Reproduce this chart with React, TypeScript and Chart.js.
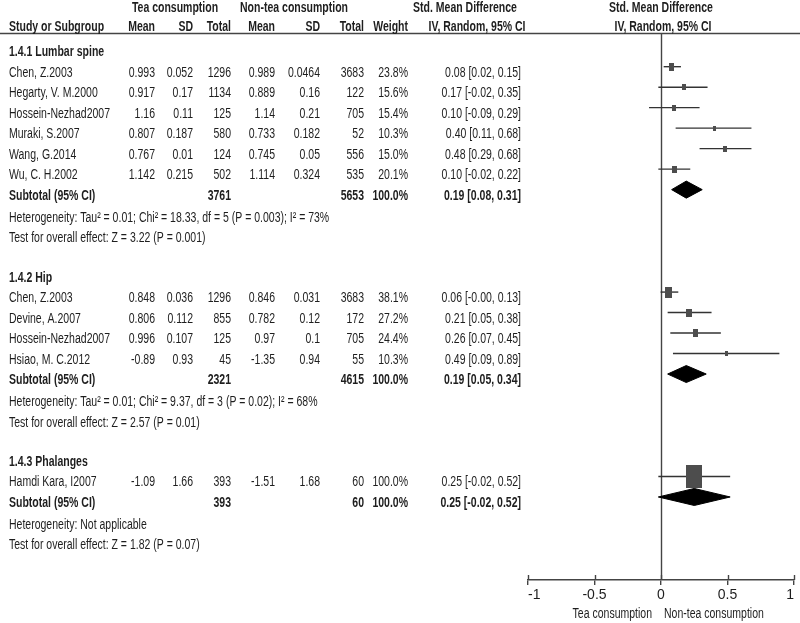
import React, { useEffect, useRef } from 'react';
import { Chart, registerables } from 'chart.js';

Chart.register(...registerables);

// ---------------- data ----------------
const groupNames = ['1.4.1 Lumbar spine', '1.4.2 Hip', '1.4.3 Phalanges'];
const studyNames = [
  'Chen, Z.2003', 'Hegarty, V. M.2000', 'Hossein-Nezhad2007', 'Muraki, S.2007', 'Wang, G.2014', 'Wu, C. H.2002',
  'Chen, Z.2003', 'Devine, A.2007', 'Hossein-Nezhad2007', 'Hsiao, M. C.2012',
  'Hamdi Kara, I2007',
];
const studyGroup = [0, 0, 0, 0, 0, 0, 1, 1, 1, 1, 2];
const teaMean = [0.993, 0.917, 1.16, 0.807, 0.767, 1.142, 0.848, 0.806, 0.996, -0.89, -1.09];
const teaSD = [0.052, 0.17, 0.11, 0.187, 0.01, 0.215, 0.036, 0.112, 0.107, 0.93, 1.66];
const teaTotal = [1296, 1134, 125, 580, 124, 502, 1296, 855, 125, 45, 393];
const nonMean = [0.989, 0.889, 1.14, 0.733, 0.745, 1.114, 0.846, 0.782, 0.97, -1.35, -1.51];
const nonSD = [0.0464, 0.16, 0.21, 0.182, 0.05, 0.324, 0.031, 0.12, 0.1, 0.94, 1.68];
const nonTotal = [3683, 122, 705, 52, 556, 535, 3683, 172, 705, 55, 60];
const weightPct = [23.8, 15.6, 15.4, 10.3, 15.0, 20.1, 38.1, 27.2, 24.4, 10.3, 100.0];
const smd = [0.08, 0.17, 0.10, 0.40, 0.48, 0.10, 0.06, 0.21, 0.26, 0.49, 0.25];
const ciLow = [0.02, -0.02, -0.09, 0.11, 0.29, -0.02, -0.003, 0.05, 0.07, 0.09, -0.02];
const ciHigh = [0.15, 0.35, 0.29, 0.68, 0.68, 0.22, 0.13, 0.38, 0.45, 0.89, 0.52];

const subTeaTotal = [3761, 2321, 393];
const subNonTotal = [5653, 4615, 60];
const subWeight = [100.0, 100.0, 100.0];
const subSmd = [0.19, 0.19, 0.25];
const subLow = [0.08, 0.05, -0.02];
const subHigh = [0.31, 0.34, 0.52];
const heterogeneity = [
  'Heterogeneity: Tau² = 0.01; Chi² = 18.33, df = 5 (P = 0.003); I² = 73%',
  'Heterogeneity: Tau² = 0.01; Chi² = 9.37, df = 3 (P = 0.02); I² = 68%',
  'Heterogeneity: Not applicable',
];
const overallTest = [
  'Test for overall effect: Z = 3.22 (P = 0.001)',
  'Test for overall effect: Z = 2.57 (P = 0.01)',
  'Test for overall effect: Z = 1.82 (P = 0.07)',
];
const xTickValues = [-1, -0.5, 0, 0.5, 1];
const xTickLabels = ['-1', '-0.5', '0', '0.5', '1'];
const favoursLeft = 'Tea consumption';
const favoursRight = 'Non-tea consumption';
const headerGroups = ['Tea consumption', 'Non-tea consumption', 'Std. Mean Difference', 'Std. Mean Difference'];
const headerCols = ['Study or Subgroup', 'Mean', 'SD', 'Total', 'Mean', 'SD', 'Total', 'Weight', 'IV, Random, 95% CI', 'IV, Random, 95% CI'];

// ---------------- layout helpers ----------------
type Row = { kind: 'group' | 'study' | 'subtotal' | 'het' | 'test'; idx: number; row: number };
function buildRows(): Row[] {
  const rows: Row[] = [];
  let r = 0;
  groupNames.forEach((_, gi) => {
    rows.push({ kind: 'group', idx: gi, row: r++ });
    studyGroup.forEach((sg, si) => {
      if (sg === gi) rows.push({ kind: 'study', idx: si, row: r++ });
    });
    rows.push({ kind: 'subtotal', idx: gi, row: r++ });
    rows.push({ kind: 'het', idx: gi, row: r++ });
    rows.push({ kind: 'test', idx: gi, row: r++ });
    r++;
  });
  return rows;
}

const FONT_PX = 14;
function pickFont(): { family: string; sx: number } {
  const c = document.createElement('canvas').getContext('2d')!;
  const s = 'Hossein-Nezhad2007 abcdefg';
  c.font = `${FONT_PX}px monospace`;
  const a = c.measureText(s).width;
  c.font = `${FONT_PX}px "Liberation Sans Narrow", monospace`;
  const b = c.measureText(s).width;
  const family = Math.abs(a - b) > 0.5
    ? '"Liberation Sans Narrow", "Arial Narrow", sans-serif'
    : '"Liberation Sans", Arial, sans-serif';
  c.font = `${FONT_PX}px ${family}`;
  const w = c.measureText('Hossein-Nezhad2007').width;
  return { family, sx: 101 / w };
}

const rectCache: Record<string, HTMLCanvasElement> = {};
function rectStyle(w: number, h: number, color: string) {
  const key = `${w}_${h}_${color}`;
  if (rectCache[key]) return rectCache[key];
  const c = document.createElement('canvas');
  c.width = Math.max(1, Math.round(w));
  c.height = Math.max(1, Math.round(h));
  const g = c.getContext('2d')!;
  g.fillStyle = color;
  g.fillRect(0, 0, c.width, c.height);
  rectCache[key] = c;
  return c;
}

export default function App() {
  const ref = useRef<HTMLCanvasElement | null>(null);

  useEffect(() => {
    const canvas = ref.current;
    if (!canvas) return;
    const font = pickFont();
    const rows = buildRows();
    const rowOfStudy: number[] = [];
    const rowOfSub: number[] = [];
    rows.forEach((r) => {
      if (r.kind === 'study') rowOfStudy[r.idx] = r.row;
      if (r.kind === 'subtotal') rowOfSub[r.idx] = r.row;
    });

    const textColor = '#1e1e1e';
    const lineColor = '#444';
    const diamondHalf = 0.415;

    const datasets: any[] = [];
    // squares (drawn on top)
    datasets.push({
      type: 'scatter',
      data: smd.map((v, i) => ({ x: v, y: rowOfStudy[i] })),
      pointStyle: (ctx: any) => {
        const w = weightPct[ctx.dataIndex];
        const pw = 2 + (14 * w) / 100;
        return rectStyle(pw, pw * 1.45, '#4d4d4d');
      },
      pointRadius: 4,
      order: 0,
    });
    // diamonds
    subSmd.forEach((v, gi) => {
      const r = rowOfSub[gi];
      datasets.push({
        type: 'line',
        data: [
          { x: subLow[gi], y: r },
          { x: v, y: r - diamondHalf },
          { x: subHigh[gi], y: r },
          { x: v, y: r + diamondHalf },
          { x: subLow[gi], y: r },
        ],
        borderColor: '#000',
        backgroundColor: '#000',
        borderWidth: 1,
        pointRadius: 0,
        fill: 'shape',
        tension: 0,
        order: 1,
      });
    });
    // CI whiskers
    smd.forEach((_, i) => {
      datasets.push({
        type: 'line',
        data: [
          { x: ciLow[i], y: rowOfStudy[i] },
          { x: ciHigh[i], y: rowOfStudy[i] },
        ],
        borderColor: '#333',
        borderWidth: 1.4,
        pointRadius: 0,
        fill: false,
        order: 2,
      });
    });

    const drawText = (
      ctx: CanvasRenderingContext2D,
      t: string,
      x: number,
      y: number,
      align: CanvasTextAlign,
      bold = false
    ) => {
      ctx.save();
      ctx.font = `${bold ? 'bold ' : ''}${FONT_PX}px ${font.family}`;
      ctx.fillStyle = textColor;
      ctx.textAlign = align;
      ctx.textBaseline = 'alphabetic';
      ctx.translate(x, y);
      ctx.scale(font.sx, 1);
      ctx.fillText(t, 0, 0);
      ctx.restore();
    };

    const colRight = [155, 193, 231, 275, 320, 364, 408, 521];

    const forestPlugin = {
      id: 'forestText',
      beforeDatasetsDraw(chart: any) {
        const ctx: CanvasRenderingContext2D = chart.ctx;
        const xs = chart.scales.x;
        const area = chart.chartArea;
        ctx.save();
        ctx.strokeStyle = lineColor;
        ctx.lineWidth = 1.4;
        // header rule
        ctx.beginPath();
        ctx.moveTo(0, area.top + 0.5);
        ctx.lineTo(chart.width, area.top + 0.5);
        ctx.stroke();
        // line of no effect
        const x0 = Math.round(xs.getPixelForValue(0)) + 0.5;
        ctx.beginPath();
        ctx.moveTo(x0, area.top);
        ctx.lineTo(x0, area.bottom);
        ctx.stroke();
        // upper halves of tick marks
        xTickValues.forEach((v) => {
          const px = Math.round(xs.getPixelForValue(v)) + 0.5;
          ctx.beginPath();
          ctx.moveTo(px, area.bottom - 5);
          ctx.lineTo(px, area.bottom);
          ctx.stroke();
        });
        ctx.restore();
      },
      afterDraw(chart: any) {
        const ctx: CanvasRenderingContext2D = chart.ctx;
        const ys = chart.scales.y;
        const xs = chart.scales.x;
        const area = chart.chartArea;
        const x0 = xs.getPixelForValue(0);
        // headers
        drawText(ctx, headerGroups[0], 175, 12, 'center', true);
        drawText(ctx, headerGroups[1], 294, 12, 'center', true);
        drawText(ctx, headerGroups[2], 465, 12, 'center', true);
        drawText(ctx, headerGroups[3], x0, 12, 'center', true);
        drawText(ctx, headerCols[0], 9, 31, 'left', true);
        for (let c = 1; c <= 7; c++) drawText(ctx, headerCols[c], colRight[c - 1], 31, 'right', true);
        drawText(ctx, headerCols[8], 477, 31, 'center', true);
        drawText(ctx, headerCols[9], x0 + 2, 31, 'center', true);

        rows.forEach((r) => {
          const base = ys.getPixelForValue(r.row) + 10;
          if (r.kind === 'group') {
            drawText(ctx, groupNames[r.idx], 9, base, 'left', true);
          } else if (r.kind === 'study') {
            const i = r.idx;
            drawText(ctx, studyNames[i], 9, base, 'left');
            const vals = [
              String(teaMean[i]), String(teaSD[i]), String(teaTotal[i]),
              String(nonMean[i]), String(nonSD[i]), String(nonTotal[i]),
              weightPct[i].toFixed(1) + '%',
              `${smd[i].toFixed(2)} [${ciLow[i].toFixed(2)}, ${ciHigh[i].toFixed(2)}]`,
            ];
            vals.forEach((v, c) => drawText(ctx, v, colRight[c], base, 'right'));
          } else if (r.kind === 'subtotal') {
            const g = r.idx;
            drawText(ctx, 'Subtotal (95% CI)', 9, base, 'left', true);
            drawText(ctx, String(subTeaTotal[g]), colRight[2], base, 'right', true);
            drawText(ctx, String(subNonTotal[g]), colRight[5], base, 'right', true);
            drawText(ctx, subWeight[g].toFixed(1) + '%', colRight[6], base, 'right', true);
            drawText(
              ctx,
              `${subSmd[g].toFixed(2)} [${subLow[g].toFixed(2)}, ${subHigh[g].toFixed(2)}]`,
              colRight[7], base, 'right', true
            );
          } else if (r.kind === 'het') {
            drawText(ctx, heterogeneity[r.idx], 9, base + 1.5, 'left');
          } else {
            drawText(ctx, overallTest[r.idx], 9, base + 1.5, 'left');
          }
        });

        // favours labels
        drawText(ctx, favoursLeft, x0 - 9, area.bottom + 38, 'right');
        drawText(ctx, favoursRight, x0 + 3, area.bottom + 38, 'left');
      },
    };

    const chart = new Chart(canvas, {
      type: 'scatter',
      data: { datasets },
      options: {
        responsive: false,
        animation: false,
        devicePixelRatio: 1,
        layout: { padding: { left: 528, right: 6, top: 33, bottom: 0 } },
        plugins: { legend: { display: false }, tooltip: { enabled: false } },
        scales: {
          x: {
            type: 'linear',
            min: -1,
            max: 1,
            afterBuildTicks: (s: any) => {
              s.ticks = xTickValues.map((v) => ({ value: v }));
            },
            afterFit: (s: any) => {
              s.height = 43;
            },
            ticks: {
              align: 'inner',
              autoSkip: false,
              maxRotation: 0,
              padding: 2,
              color: textColor,
              font: { family: font.family, size: 14 },
              callback: (v: any) => {
                const k = xTickValues.indexOf(Number(v));
                return k >= 0 ? xTickLabels[k] : '';
              },
            },
            grid: { drawOnChartArea: false, drawTicks: true, tickLength: 5, color: lineColor, lineWidth: 1.4 },
            border: { display: true, color: lineColor, width: 1.4 },
          },
          y: {
            type: 'linear',
            display: false,
            reverse: true,
            min: -0.644,
            max: 26.052,
          },
        },
      } as any,
      plugins: [forestPlugin],
    });
    return () => chart.destroy();
  }, []);

  return (
    <div style={{ position: 'absolute', left: 0, top: 0, width: 800, height: 623, background: '#fff' }}>
      <canvas ref={ref} width={800} height={623} style={{ display: 'block' }} />
    </div>
  );
}
